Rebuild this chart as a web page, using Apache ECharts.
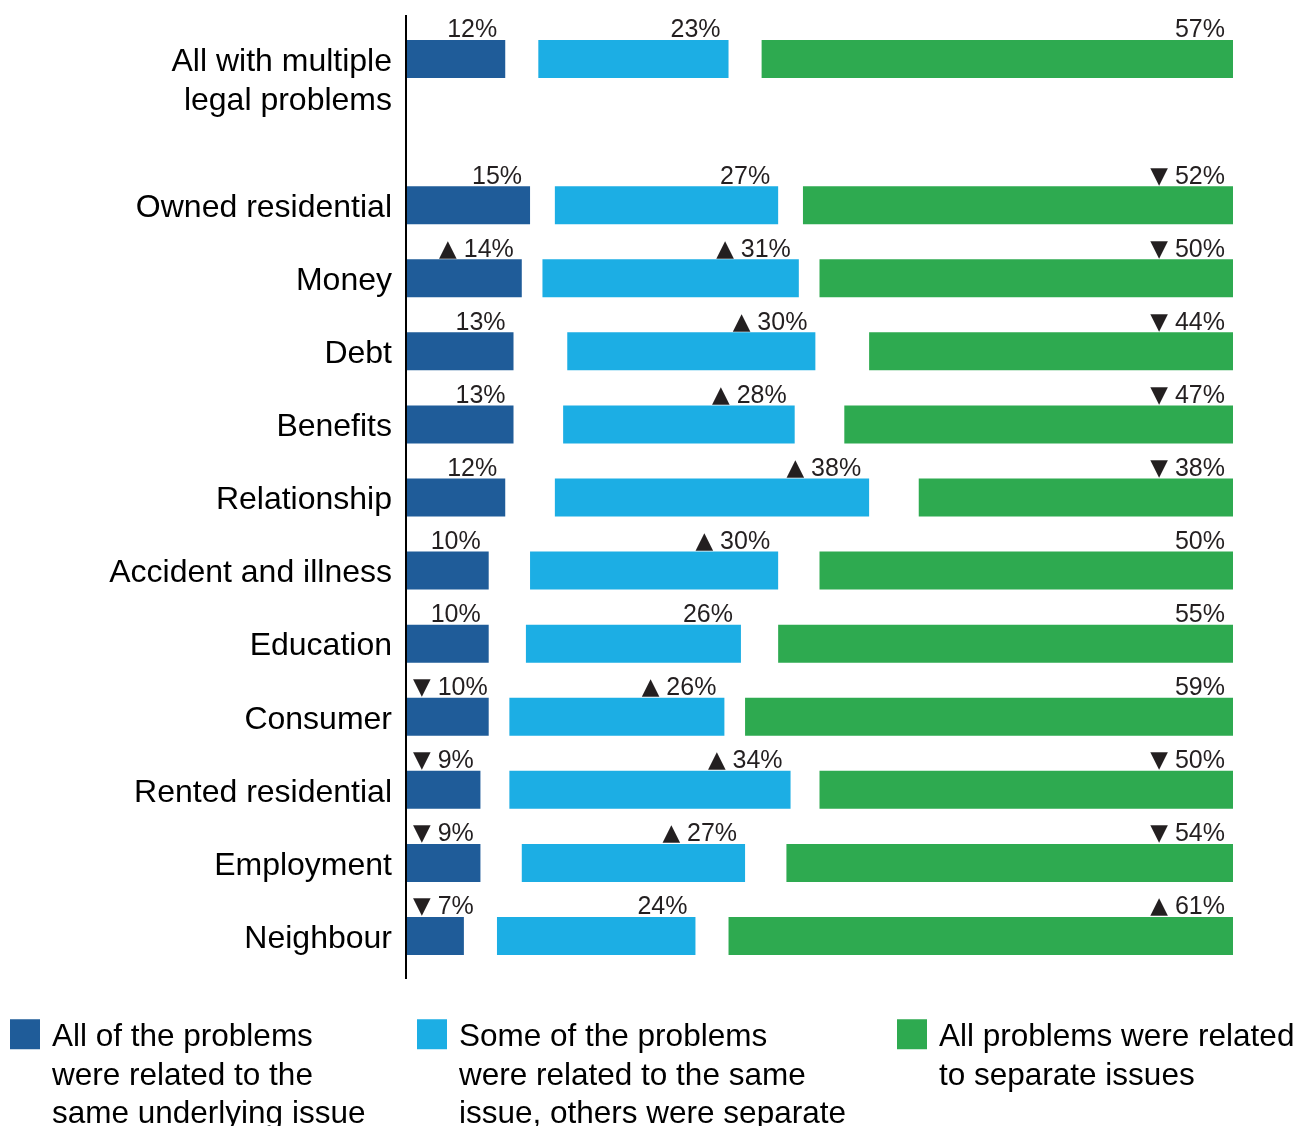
<!DOCTYPE html>
<html>
<head>
<meta charset="utf-8">
<title>Multiple legal problems: how related were they?</title>
<script src="https://cdn.jsdelivr.net/npm/echarts@6/dist/echarts.min.js"></script>
<style>
  html, body { margin: 0; padding: 0; background: #ffffff; }
  #chart { width: 1299px; height: 1126px; }
</style>
</head>
<body>
<div id="chart"></div>
<script>
// Problem groups, top to bottom ('' leaves a blank row under the overall figure)
const categories = [
  'All with multiple\nlegal problems', '',
  'Owned residential', 'Money', 'Debt', 'Benefits', 'Relationship',
  'Accident and illness', 'Education', 'Consumer', 'Rented residential',
  'Employment', 'Neighbour'
];

const seriesNames = [
  'All of the problems\nwere related to the\nsame underlying issue',
  'Some of the problems\nwere related to the same\nissue, others were separate',
  'All problems were related\nto separate issues'
];

// Percentages per group
const allSame  = [12, null, 15, 14, 13, 13, 12, 10, 10, 10,  9,  9,  7];
const someSame = [23, null, 27, 31, 30, 28, 38, 30, 26, 26, 34, 27, 24];
const separate = [57, null, 52, 50, 44, 47, 38, 50, 55, 59, 50, 54, 61];

// Significance markers shown before each value
const allSameSig  = ['', '', '',  '▲', '',  '',  '',  '',  '', '▼', '▼', '▼', '▼'];
const someSameSig = ['', '', '',  '▲', '▲', '▲', '▲', '▲', '', '▲', '▲', '▲', ''];
const separateSig = ['', '', '▼', '▼', '▼', '▼', '▼', '',  '', '',  '▼', '▼', '▲'];

const COLORS = ['#1f5c99', '#1caee4', '#2eaa50'];
const FONT = '"Liberation Sans", Arial, Helvetica, sans-serif';
const TEXT = '#231f20';
const AXIS_X = 406;

// The share not in any of the three answers is split into two blank gaps
const spacer = allSame.map((v, i) =>
  v == null ? null : (100 - v - someSame[i] - separate[i]) / 2
);

// Wrap every line of a string in a rich-text token
function richLines(str, token) {
  return str.split('\n').map(s => '{' + token + '|' + s + '}').join('\n');
}

function valueLabel(sig, offset) {
  return {
    show: true,
    position: ['100%', 0],
    align: 'right',
    verticalAlign: 'bottom',
    offset: offset,
    fontFamily: FONT,
    fontSize: 25,
    color: TEXT,
    formatter: p => p.value == null ? '' :
      (sig[p.dataIndex] ? '{t|' + sig[p.dataIndex] + '} ' : '') + p.value + '%',
    rich: {
      t: { fontFamily: '"DejaVu Sans", sans-serif', fontSize: 23, color: TEXT }
    }
  };
}

function barSeries(name, data, color, sig, offset) {
  return {
    name: name,
    type: 'bar',
    stack: 'total',
    barWidth: 38,
    data: data,
    itemStyle: { color: color },
    label: valueLabel(sig, offset)
  };
}

function gapSeries(name) {
  return {
    name: name,
    type: 'bar',
    stack: 'total',
    barWidth: 38,
    data: spacer,
    silent: true,
    itemStyle: { color: 'rgba(0,0,0,0)' },
    label: { show: false },
    emphasis: { disabled: true }
  };
}

// Legend entries: leading blank lines push the text down so that its
// first line sits level with the colour swatch.
function legendAt(left, name, lines) {
  const lh = 38.5;
  const blank = lines - 1;
  const total = lines + blank;
  return {
    data: [name],
    left: left,
    top: 1034 - total * lh / 2,
    orient: 'horizontal',
    padding: 0,
    icon: 'rect',
    itemWidth: 30,
    itemHeight: 30,
    selectedMode: false,
    formatter: n => richLines('\n'.repeat(blank) + n, 'l'),
    textStyle: {
      fontFamily: FONT,
      fontSize: 31.5,
      lineHeight: lh,
      color: '#000',
      padding: [0, 0, 0, 7],
      rich: {
        l: {
          fontFamily: FONT, fontSize: 31.5, lineHeight: lh, color: '#000',
          padding: [7, 0, 0, 0]
        }
      }
    }
  };
}

const chart = echarts.init(document.getElementById('chart'), null, { renderer: 'canvas' });

chart.setOption({
  animation: false,
  backgroundColor: '#ffffff',
  grid: {
    left: AXIS_X, right: 66, top: 22.5, bottom: 153.5,
    containLabel: false,
    outerBoundsMode: 'none'
  },
  xAxis: {
    type: 'value',
    min: 0,
    max: 100,
    show: false
  },
  yAxis: {
    type: 'category',
    inverse: true,
    data: categories,
    axisLine: { show: false },
    axisTick: { show: false },
    splitLine: { show: false },
    axisLabel: {
      interval: 0,
      margin: 14,
      fontFamily: FONT,
      fontSize: 32,
      lineHeight: 39,
      color: '#000',
      align: 'right',
      // two-line names hang below the bar: first line level with it
      formatter: v => richLines(v.indexOf('\n') >= 0 ? '\n' + v : v, 'c'),
      rich: {
        c: {
          fontFamily: FONT, fontSize: 32, lineHeight: 39, color: '#000',
          padding: [6, 0, 0, 0]
        }
      }
    }
  },
  legend: [
    legendAt(10, seriesNames[0], 3),
    legendAt(417, seriesNames[1], 3),
    legendAt(897, seriesNames[2], 2)
  ],
  graphic: [{
    // vertical baseline along the left edge of the bars
    type: 'line',
    shape: { x1: AXIS_X, y1: 15, x2: AXIS_X, y2: 979 },
    style: { stroke: '#000000', lineWidth: 2 },
    silent: true,
    z: 10
  }],
  series: [
    Object.assign(barSeries(seriesNames[0], allSame, COLORS[0], allSameSig, [0, 0]), {
      // same inset as the other labels, but never closer to the baseline than 7px
      labelLayout: params => ({
        dx: Math.max(-8, AXIS_X + 7 - params.labelRect.x),
        dy: 3
      })
    }),
    gapSeries('gap1'),
    barSeries(seriesNames[1], someSame, COLORS[1], someSameSig, [-8, 3]),
    gapSeries('gap2'),
    barSeries(seriesNames[2], separate, COLORS[2], separateSig, [-8, 3])
  ]
});
</script>
</body>
</html>
